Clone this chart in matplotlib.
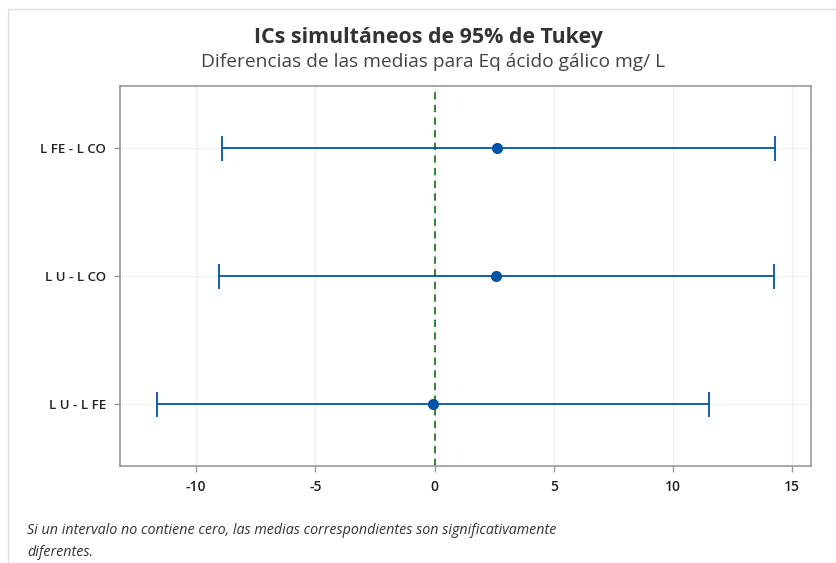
import matplotlib
matplotlib.use("Agg")
import matplotlib.pyplot as plt
from matplotlib.patches import Rectangle

# ── Data ──────────────────────────────────────────────────────────────────────
comparisons = ["L FE - L CO", "L U - L CO", "L U - L FE"]
centers     = [2.64, 2.58, -0.06]
lower       = [-8.91, -9.04, -11.63]
upper       = [14.28, 14.23, 11.51]
xticks      = [-10, -5, 0, 5, 10, 15]

BLUE  = "#0054A6"
GREEN = "#1E7B1E"
GRID  = "#F0F0F0"

plt.rcParams["font.family"] = ["Open Sans", "DejaVu Sans"]

fig = plt.figure(figsize=(8.36, 5.63), dpi=100)
W, H = 836, 563
ax = fig.add_axes([120 / W, 1 - 466 / H, (811 - 120) / W, (466 - 86) / H])

# outer frame of the graph window
fig.patches.append(Rectangle((8 / W, 0), 1.0, 1 - 9 / H, transform=fig.transFigure,
                             fill=False, ec="#DDDDDD", lw=1.0))

ypos = [3, 2, 1]
for y, c, lo, hi in zip(ypos, centers, lower, upper):
    ax.errorbar([c], [y], xerr=[[c - lo], [hi - c]], fmt="o", color=BLUE,
                ms=7, elinewidth=1.3, capsize=9, capthick=1.3, zorder=3)

ax.axvline(0, color=GREEN, ls=(0, (4, 3)), lw=1.3, zorder=2)

ax.set_xlim(-13.19, 15.79)
ax.set_ylim(0.51, 3.49)
ax.set_xticks(xticks)
ax.set_xticklabels([str(t) for t in xticks], fontsize=10, fontweight="semibold", color="#222222")
ax.set_yticks(ypos)
ax.set_yticklabels(comparisons, fontsize=9.5, fontweight="semibold", color="#222222")
ax.grid(True, color=GRID, lw=0.9, zorder=0)
ax.set_axisbelow(True)
for s in ax.spines.values():
    s.set_color("#999999")
    s.set_linewidth(1.2)
ax.tick_params(axis="both", color="#999999", length=4, width=1, pad=6)

fig.text(428 / W, 1 - 38 / H, "ICs simultáneos de 95% de Tukey", ha="center", va="center",
         fontsize=15.4, fontweight="bold", color="#333333")
fig.text(433 / W, 1 - 62 / H, "Diferencias de las medias para Eq ácido gálico mg/ L", ha="center",
         va="center", fontsize=13.8, color="#444444")
fig.text(27 / W, 1 - 530 / H,
         "Si un intervalo no contiene cero, las medias correspondientes son significativamente",
         ha="left", va="center", fontsize=10.3, style="italic", color="#333333")
fig.text(27 / W, 1 - 552 / H, "diferentes.", ha="left", va="center", fontsize=10.3,
         style="italic", color="#333333")

fig.savefig("out.png", dpi=100, facecolor="white")
